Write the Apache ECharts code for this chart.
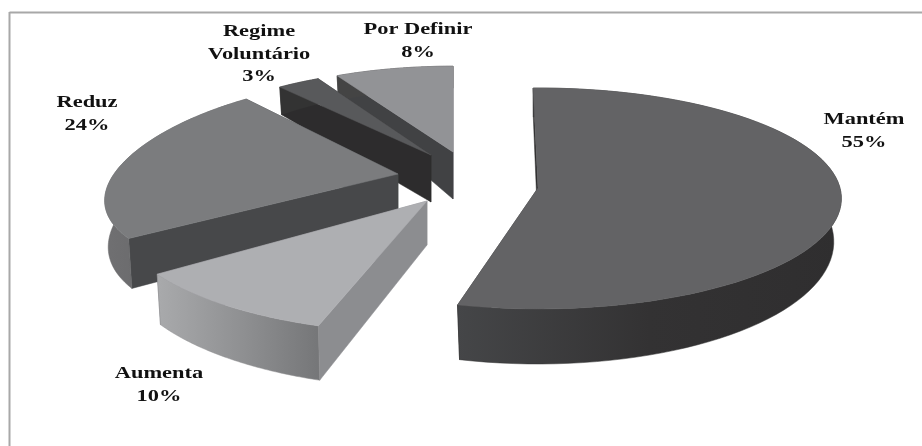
<!DOCTYPE html>
<html><head><meta charset="utf-8">
<style>html,body{margin:0;padding:0;background:#fff}#c{width:922px;height:446px}</style>
<script src="https://cdn.jsdelivr.net/npm/echarts@6/dist/echarts.min.js"></script>
</head><body><div id="c"></div>
<script>
const categories = ['Mantém', 'Aumenta', 'Reduz', 'Regime\nVoluntário', 'Por Definir'];
const shares = [55, 10, 24, 3, 8];

// Layout and look of each slice (same order as categories)
const apex   = [[538,188],[427,201],[398,174],[431,155],[453,152]];
const radii  = [[302,109.5],[308,115],[284,104],[261,97],[268,97]];
const perspX = [0.095,0.13,0.25,0.13,0.13];
const perspY = [0.095,0.13,0.09,0.13,0.13];
const depth  = [[42,13],[44,11],[44,10],[47,25],[47,25]];
const lean   = [0.025,0.012,0.012,0.012,0.012];
const turnA  = [-1,0,0,0,0];
const turnB  = [-4,0,0,0,0];
const labelAt= [[864,118],[159,372],[87,101],[259,30],[418,28]];
const topCol = ['#636365','#aeafb2','#7b7c7e','#58595b','#929396'];
const sideCol= ['#2f2e2f','#8c8d90','#47484a','#2d2c2d','#414244'];
const rimCol = [['#454648','#333233','#2f2e2f'],['#a9aaac','#909193','#757678'],['#707072','#666668','#545456'],['#333','#333','#333'],['#444','#444','#444']];
const drawOrder = [4,3,2,1,0];

const total = shares.reduce((a,b)=>a+b,0);
const startPct = shares.map((_,i)=>shares.slice(0,i).reduce((a,b)=>a+b,0));

function topPt(i,t){
  const c=Math.cos(t), s=Math.sin(t);
  return [apex[i][0]+radii[i][0]*s/(1+perspX[i]*c), apex[i][1]-radii[i][1]*c/(1+perspY[i]*c)];
}
function lowPt(i,p,t){
  const d=depth[i][0]-depth[i][1]*Math.cos(t);
  return [p[0]-lean[i]*(p[0]-apex[i][0]), p[1]+d];
}
function renderItem(params, api){
  const i=drawOrder[params.dataIndex];
  const a0=(startPct[i]/total*360+turnA[i])*Math.PI/180;
  const a1=((startPct[i]+shares[i])/total*360+turnB[i])*Math.PI/180;
  const arc=[], low=[];
  const n=80;
  for(let k=0;k<=n;k++){
    const t=a0+(a1-a0)*k/n;
    const p=topPt(i,t);
    arc.push(p); low.push(lowPt(i,p,t));
  }
  const A=apex[i], B=[A[0],A[1]+depth[i][0]];
  const base=params.dataIndex*10;
  const poly=(pts,fill,z)=>({type:'polygon',shape:{points:pts},z2:base+z,
    style:{fill:fill,stroke:typeof fill==='string'?fill:rimCol[i][1],lineWidth:0.5}});
  const rimGrad={type:'linear',x:0,y:0,x2:1,y2:0,colorStops:[
    {offset:0,color:rimCol[i][0]},{offset:0.5,color:rimCol[i][1]},{offset:1,color:rimCol[i][2]}]};
  return {type:'group',children:[
    poly([A,arc[n],low[n],B],sideCol[i],1),
    poly([A,arc[0],low[0],B],sideCol[i],2),
    poly(arc.concat(low.slice().reverse()),rimGrad,3),
    poly([A].concat(arc),topCol[i],4),
    {type:'text',x:labelAt[i][0],y:labelAt[i][1]-9,scaleX:1.4,z2:100,
     style:{text:categories[i]+'\n'+shares[i]+'%',textAlign:'center',textVerticalAlign:'top',
       font:'bold 16px "Liberation Serif"',lineHeight:22.5,fill:'#111111'}}
  ]};
}
const chart=echarts.init(document.getElementById('c'),null,{renderer:'canvas'});
chart.setOption({
  animation:false,
  backgroundColor:'#ffffff',
  graphic:[
    {type:'line',shape:{x1:9.5,y1:12.5,x2:922,y2:12.5},z:-1,style:{stroke:'#a8a8a8',lineWidth:2}},
    {type:'line',shape:{x1:9.5,y1:12,x2:9.5,y2:446},z:-1,style:{stroke:'#a8a8a8',lineWidth:2}}
  ],
  series:[{type:'custom',coordinateSystem:'none',renderItem:renderItem,
    data:drawOrder.map(i=>({name:categories[i].replace('\n',' '),value:shares[i]}))}]
});
</script></body></html>
